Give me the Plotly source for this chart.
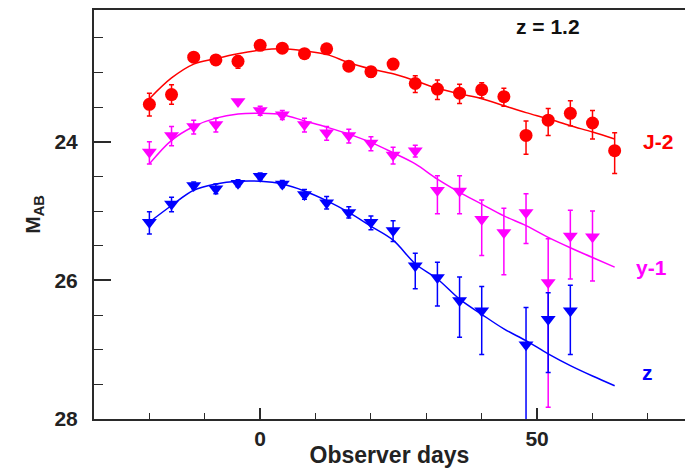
import plotly.graph_objects as go

# ---- data ----
days = [-20, -16, -12, -8, -4, 0, 4, 8, 12, 16, 20, 24, 28, 32, 36, 40, 44, 48, 52, 56, 60, 64]

j_mag = [23.46, 23.32, 22.78, 22.82, 22.84, 22.61, 22.65, 22.73, 22.66, 22.91, 22.99, 22.88,
         23.16, 23.24, 23.30, 23.25, 23.35, 23.91, 23.69, 23.59, 23.73, 24.13]
j_err_up = [0.16, 0.14, 0.05, 0.05, 0.08, 0.04, 0.04, 0.05, 0.05, 0.06, 0.07, 0.07,
            0.11, 0.13, 0.13, 0.10, 0.12, 0.21, 0.17, 0.18, 0.18, 0.26]
j_err_dn = [0.17, 0.14, 0.05, 0.05, 0.10, 0.04, 0.04, 0.05, 0.05, 0.07, 0.08, 0.08,
            0.13, 0.15, 0.15, 0.12, 0.14, 0.27, 0.22, 0.18, 0.23, 0.33]

y_days = [-20, -16, -12, -8, -4, 0, 4, 8, 12, 16, 20, 24, 28, 32, 36, 40, 44, 48, 52, 56, 60]
y_mag = [24.15, 23.91, 23.78, 23.75, 23.42, 23.55, 23.61, 23.75, 23.87, 23.91, 24.02, 24.19,
         24.13, 24.70, 24.71, 25.12, 25.31, 25.02, 26.03, 25.36, 25.37]
y_err_up = [0.15, 0.13, 0.09, 0.09, 0.0, 0.06, 0.06, 0.09, 0.09, 0.09, 0.09, 0.11,
            0.08, 0.21, 0.22, 0.28, 0.35, 0.27, 0.63, 0.37, 0.37]
y_err_dn = [0.17, 0.15, 0.11, 0.11, 0.0, 0.07, 0.07, 0.11, 0.11, 0.11, 0.11, 0.13,
            0.09, 0.34, 0.33, 0.52, 0.61, 0.45, 1.80, 0.62, 0.64]

z_days = [-20, -16, -12, -8, -4, 0, 4, 8, 12, 16, 20, 24, 28, 32, 36, 40, 48, 52, 56]
z_mag = [25.16, 24.90, 24.63, 24.68, 24.60, 24.50, 24.61, 24.76, 24.88, 25.02, 25.16, 25.28,
         25.79, 25.96, 26.29, 26.44, 26.93, 26.56, 26.44]
z_err_up = [0.15, 0.10, 0.05, 0.07, 0.05, 0.05, 0.05, 0.07, 0.09, 0.08, 0.09, 0.14,
            0.18, 0.22, 0.34, 0.35, 0.54, 0.38, 0.37]
z_err_dn = [0.17, 0.11, 0.05, 0.07, 0.05, 0.05, 0.05, 0.07, 0.09, 0.08, 0.11, 0.16,
            0.33, 0.41, 0.53, 0.63, 1.20, 0.77, 0.63]

# fitted curves
fit_days = [-20, -16, -12, -8, -4, 0, 4, 8, 12, 16, 20, 24, 28, 32, 36, 40, 44, 48, 52, 56, 60, 64]
j_fit = [23.38, 23.08, 22.88, 22.80, 22.73, 22.68, 22.66, 22.69, 22.74, 22.86, 22.95, 23.02,
         23.12, 23.23, 23.31, 23.38, 23.48, 23.58, 23.67, 23.77, 23.86, 23.96]
y_fit = [24.32, 23.98, 23.78, 23.66, 23.60, 23.59, 23.61, 23.70, 23.79, 23.89, 24.01, 24.16,
         24.32, 24.54, 24.73, 24.90, 25.07, 25.21, 25.38, 25.53, 25.67, 25.81]
z_fit = [25.16, 24.92, 24.70, 24.61, 24.57, 24.57, 24.61, 24.71, 24.85, 25.02, 25.22, 25.42,
         25.76, 25.98, 26.27, 26.49, 26.70, 26.87, 27.06, 27.23, 27.38, 27.52]

band_labels = ["J-2", "y-1", "z"]
title_text = "z = 1.2"
x_ticks = [0, 50]
y_ticks = [24, 26, 28]

RED = "#ff0000"
MAG = "#ff00ff"
BLUE = "#0000ff"
AXC = "#2a2a2a"

fig = go.Figure()

def add_band(x, y, eu, ed, fy, color, symbol, size):
    fig.add_trace(go.Scatter(x=fit_days, y=fy, mode="lines",
                             line=dict(color=color, width=1.5, shape="spline"),
                             hoverinfo="skip", showlegend=False))
    # y axis is reversed: "array" (plus) goes toward fainter mags (down)
    fig.add_trace(go.Scatter(x=x, y=y, mode="markers",
                             marker=dict(color=color, symbol=symbol, size=size, line=dict(width=0)),
                             error_y=dict(type="data", symmetric=False, array=ed, arrayminus=eu,
                                          color=color, thickness=1.5, width=2.5),
                             showlegend=False))

add_band(days, j_mag, j_err_up, j_err_dn, j_fit, RED, "circle", 13)
add_band(y_days, y_mag, y_err_up, y_err_dn, y_fit, MAG, "triangle-down", 13)
add_band(z_days, z_mag, z_err_up, z_err_dn, z_fit, BLUE, "triangle-down", 13)

fnt = dict(family="Liberation Sans, Arial, sans-serif", weight="bold")

for txt, xx, yy, col in [(band_labels[0], 71.8, 24.0, RED), (band_labels[1], 70.7, 25.81, MAG),
                         (band_labels[2], 70.0, 27.33, BLUE), (title_text, 52.0, 22.34, "#111111")]:
    fig.add_annotation(x=xx, y=yy, text=txt, showarrow=False, xanchor="center", yanchor="middle",
                       font=dict(size=21, color=col, **fnt))

fig.update_layout(
    width=685, height=468,
    margin=dict(l=94, r=0, t=10, b=49, autoexpand=False),
    plot_bgcolor="white", paper_bgcolor="white",
    showlegend=False,
    xaxis=dict(range=[-30, 76.7], showgrid=False, zeroline=False, automargin=False,
               showline=True, linecolor=AXC, linewidth=2, mirror=True,
               ticks="inside", ticklen=11, tickwidth=1.5, tickcolor=AXC,
               tickvals=x_ticks, ticktext=[str(v) for v in x_ticks],
               minor=dict(dtick=10, tick0=0, ticks="inside", ticklen=6, tickwidth=1.3, tickcolor=AXC),
               tickfont=dict(size=21, color="#222222", **fnt),
               ticklabelstandoff=0,
               title=dict(text="Observer days", font=dict(size=23, color="#222222", **fnt), standoff=0)),
    yaxis=dict(range=[28, 22.1], showgrid=False, zeroline=False, automargin=False,
               showline=True, linecolor=AXC, linewidth=2,
               ticks="inside", ticklen=17, tickwidth=1.5, tickcolor=AXC,
               tickvals=y_ticks, ticktext=[str(v) for v in y_ticks],
               minor=dict(dtick=0.5, tick0=0, ticks="inside", ticklen=9, tickwidth=1.3, tickcolor=AXC),
               tickfont=dict(size=21, color="#222222", **fnt),
               ticklabelstandoff=10,
               title=dict(text="M<sub>AB</sub>", font=dict(size=21, color="#222222", **fnt), standoff=8)),
)

fig.write_html("out.html", config={"displayModeBar": False},
               post_script="document.body.style.margin='0';document.body.style.overflow='hidden';")
